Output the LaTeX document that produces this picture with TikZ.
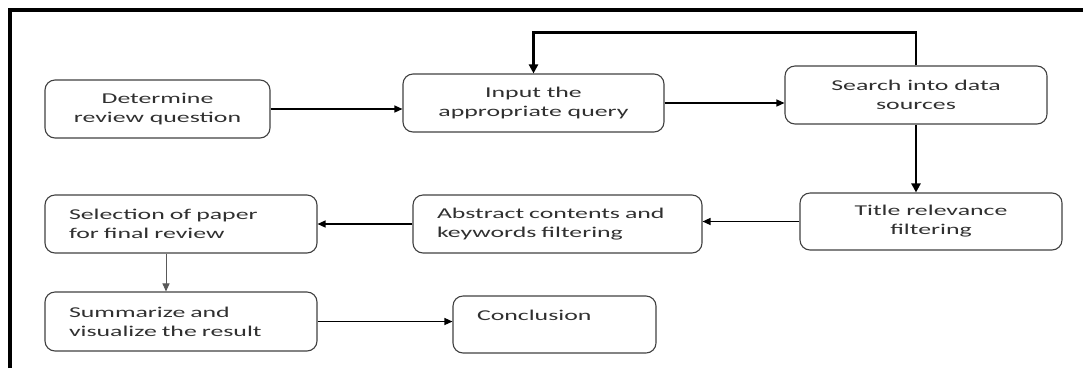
\documentclass[tikz,border=0pt]{standalone}
\usepackage{fontspec}
\setmainfont{Carlito}[FakeStretch=1.72]
\usetikzlibrary{arrows.meta, calc}
\definecolor{boxline}{HTML}{404040}
\definecolor{boxtext}{HTML}{303030}
\tikzset{
    flow box/.style={rectangle, rounded corners=10pt, draw=boxline, line width=1.1pt, minimum height=58pt, inner xsep=0pt, align=center, text=boxtext, font=\fontsize{15}{19}\selectfont},
    flow box left/.style={flow box, inner xsep=24pt, align=left},
    link/.style={-{Triangle[length=8pt, width=7pt]}, line width=1.3pt},
    link thick/.style={-{Triangle[length=9pt, width=9pt]}, line width=2.2pt},
}
\begin{document}
\begin{tikzpicture}[x=1pt, y=-1pt]
\useasboundingbox (0,0) rectangle (1083,368);
% outer frame (top and left edges)
\draw[line width=4pt] (9.5,368) -- (9.5,10) -- (1083,10);

% first row
\node[flow box, minimum width=225pt] (det) at (157.5,109) {Determine\\review question};
\node[flow box, minimum width=261pt] (inp) at (533.5,103) {Input the\\appropriate query};
\node[flow box, minimum width=262pt] (srch) at (916,95) {Search into data\\sources};
% second row
\node[flow box, minimum width=262pt, minimum height=57pt] (ttl) at (931,221.5) {Title relevance\\filtering};
\node[flow box left, text width=241pt] (abs) at (557.5,224) {Abstract contents and\\keywords filtering};
\node[flow box left, text width=224pt] (sel) at (181,224) {Selection of paper\\for final review};
% third row
\node[flow box left, text width=224pt, minimum height=59pt] (sum) at (181,321.5) {Summarize and\\visualize the result};
\node[flow box left, text width=155pt, minimum height=57pt] (con) at (554.5,324.5) {Conclusion\\~};

\draw[link] (det.east) -- (det.east -| inp.west);
\draw[link] (inp.east) -- (inp.east -| srch.west);
\draw[link thick] (srch.north) -- ++(0,-33) -| (inp.north);
\draw[link thick] (srch.south) -- (srch.south |- ttl.north);
\draw[link] (ttl.west) -- (ttl.west -| abs.east);
\draw[link] (abs.west) -- (abs.west -| sel.east);
\draw[link, draw=gray!70!black, line width=1pt] ([xshift=-15pt]sel.south) -- ([xshift=-15pt]sel.south |- sum.north);
\draw[link] (sum.east) -- (sum.east -| con.west);
\end{tikzpicture}
\end{document}
